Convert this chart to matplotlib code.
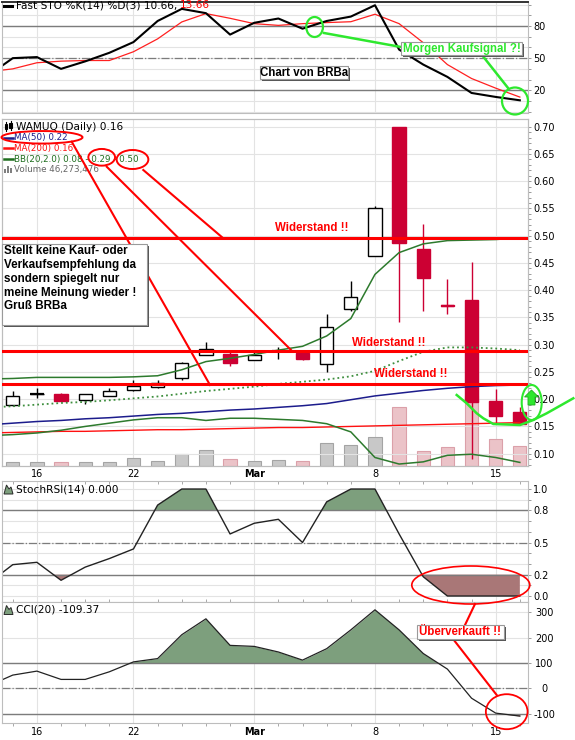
import numpy as np
import matplotlib.pyplot as plt
from matplotlib.patches import Ellipse, Rectangle, Polygon

W, H = 575, 740

# trading days: -1 = Feb 11 (only the start of the lines at the left edge), 0 = Feb 12 ... 21 = Mar 16
x_line = np.arange(-1, 22)
x_day = np.arange(0, 22)
tick_pos = [1, 5, 10, 15, 20]
tick_lbl = ['16', '22', 'Mar', '8', '15']

# WAMUQ daily candles
open_ = [0.189, 0.2095, 0.209, 0.198, 0.205, 0.216, 0.223, 0.238, 0.282, 0.283, 0.271,
         0.2884, 0.284, 0.264, 0.365, 0.463, 0.700, 0.476, 0.372, 0.382, 0.197, 0.176]
close = [0.206, 0.2095, 0.197, 0.209, 0.215, 0.225, 0.229, 0.266, 0.2915, 0.266, 0.281,
         0.2884, 0.274, 0.332, 0.388, 0.550, 0.486, 0.422, 0.371, 0.1955, 0.170, 0.154]
high = [0.215, 0.220, 0.212, 0.210, 0.221, 0.235, 0.235, 0.269, 0.3055, 0.287, 0.287,
        0.295, 0.285, 0.356, 0.416, 0.5545, 0.700, 0.521, 0.420, 0.452, 0.218, 0.185]
low = [0.187, 0.202, 0.196, 0.192, 0.205, 0.215, 0.220, 0.236, 0.281, 0.260, 0.271,
       0.273, 0.271, 0.2505, 0.361, 0.462, 0.341, 0.361, 0.356, 0.090, 0.156, 0.154]
volume = [8.5, 8.5, 8.5, 8.5, 8.5, 17.8, 10.9, 27.1, 37.0, 16.2, 10.9,
          13.2, 10.9, 52.5, 47.9, 66.4, 135.8, 34.7, 43.3, 162.0, 62.5, 46.3]  # Mio.

# overlays (Feb 11 .. Mar 16)
ma50 = [0.153, 0.156, 0.159, 0.161, 0.164, 0.166, 0.169, 0.172, 0.174, 0.177, 0.180, 0.182,
        0.185, 0.188, 0.192, 0.199, 0.206, 0.211, 0.216, 0.220, 0.223, 0.225, 0.226]
ma200 = [0.138, 0.139, 0.140, 0.141, 0.141, 0.142, 0.143, 0.144, 0.144, 0.145, 0.146, 0.147,
         0.148, 0.148, 0.149, 0.150, 0.151, 0.152, 0.153, 0.154, 0.155, 0.156, 0.157]
bb_up = [0.237, 0.238, 0.240, 0.240, 0.240, 0.240, 0.241, 0.243, 0.254, 0.269, 0.275, 0.282,
         0.290, 0.297, 0.316, 0.348, 0.429, 0.469, 0.485, 0.491, 0.492, 0.493, 0.496]
bb_mid = [0.185, 0.187, 0.190, 0.193, 0.195, 0.198, 0.2015, 0.205, 0.210, 0.215, 0.219, 0.223,
          0.228, 0.232, 0.236, 0.242, 0.252, 0.270, 0.287, 0.295, 0.295, 0.293, 0.290]
bb_low = [0.133, 0.135, 0.138, 0.143, 0.150, 0.156, 0.162, 0.166, 0.166, 0.161, 0.165, 0.165,
          0.163, 0.161, 0.155, 0.140, 0.093, 0.081, 0.085, 0.097, 0.099, 0.093, 0.084]
resist = [0.4964, 0.289, 0.2273]

# indicators
sto_k = [34, 50, 51, 40, 47, 55, 65, 84.7, 96, 92, 72, 83, 87, 77.5, 84.7, 88.8,
         99.4, 58, 44, 32.5, 17.5, 13.8, 10.66]
sto_d = [37.3, 40, 45.7, 47.2, 47.8, 47.8, 56, 68, 83.8, 91.6, 87.2, 82.2, 80.6, 82.2,
         83.2, 84, 91, 82.2, 64.4, 44, 31, 22, 13.66]
srsi = np.array([0.12, 0.293, 0.315, 0.147, 0.27, 0.35, 0.44, 0.85, 1.0, 1.0, 0.58, 0.68,
                 0.717, 0.5, 0.88, 1.0, 1.0, 0.58, 0.18, 0.0, 0.0, 0.0, 0.0])
cci = np.array([10, 52, 67.7, 35, 35, 65, 104, 117, 211, 273.6, 169, 165, 143, 111, 156,
                230, 309, 230, 137, 75.6, -39, -97.7, -109.37])

RED = '#cc0033'
GRID = '#e3e3e3'
LINE = '#7c7c7c'
GREEN_FILL = '#7d9f7d'
RED_FILL = '#a97777'
LIME = '#2ee82e'
ANN = dict(family='Liberation Sans', fontweight='bold', fontsize=8.3)

fig = plt.figure(figsize=(W / 100, H / 100), dpi=100)


def panel(y0, y1):
    a = fig.add_axes([2 / W, 1 - y1 / H, 526.3 / W, (y1 - y0) / H])
    a.set_xlim(-0.445, 21.35)
    for s in a.spines.values():
        s.set_color('#bdbdbd')
        s.set_linewidth(0.8)
    a.set_xticks(tick_pos)
    a.set_xticks(x_day, minor=True)
    a.tick_params(axis='x', which='both', length=0, labelbottom=False)
    a.yaxis.tick_right()
    a.tick_params(axis='y', which='both', length=2, width=0.6, color='#8c8c8c',
                  pad=1.5, labelsize=7)
    a.grid(axis='x', which='major', color=GRID, lw=0.8)
    a.set_axisbelow(True)
    return a


# Fast STO
ax_sto = panel(1.7, 113)
ax_sto.set_ylim(-1.2, 102.7)
ax_sto.set_yticks([20, 50, 80])
ax_sto.set_yticks(np.arange(0, 101, 10), minor=True)
ax_sto.grid(axis='y', which='both', color=GRID, lw=0.8)
ax_sto.axhline(80, color=LINE, lw=1)
ax_sto.axhline(20, color=LINE, lw=1)
ax_sto.axhline(50, color=LINE, lw=0.9, ls='-.')
ax_sto.plot(x_line, sto_d, color='#ff2020', lw=0.9)
ax_sto.plot(x_line, sto_k, color='black', lw=1.5)
ax_sto.spines['top'].set_color('#333333')
ax_sto.spines['top'].set_linewidth(1.4)

# volume behind the price panel
ax_vol = panel(119.3, 466)
ax_vol.set_ylim(0, 802)
ax_vol.set_yticks([])
up = np.array(close) >= np.array(open_)
ax_vol.bar(x_day, volume, width=0.55, color=np.where(up, '#c8c8c8', '#ebc3c8'),
           edgecolor=np.where(up, '#a4a4a4', '#dba0a9'), lw=0.8)

# price panel
ax = panel(119.3, 466)
ax.set_facecolor('none')
ax.grid(False, axis='x')
ax.set_ylim(0.0774, 0.7136)
yt = np.arange(0.10, 0.71, 0.05)
ax.set_yticks(yt)
ax.set_yticklabels(['%.2f' % v for v in yt])
ax.set_yticks(np.arange(0.08, 0.71, 0.01), minor=True)
ax.grid(axis='y', which='major', color=GRID, lw=0.8)

cols = np.where(up, 'black', RED)
ax.vlines(x_day, low, high, colors=cols, lw=1, zorder=3)
body_lo = np.minimum(open_, close)
body_h = np.abs(np.array(close) - np.array(open_))
ax.bar(x_day, body_h, bottom=body_lo, width=0.55, color=np.where(up, 'white', RED),
       edgecolor=cols, lw=1, zorder=4)
doji = body_h < 0.002
ax.hlines(np.array(close)[doji], x_day[doji] - 0.275, x_day[doji] + 0.275,
          colors=cols[doji], lw=1.6, zorder=4)

ax.plot(x_line, ma200, color='#ff1010', lw=1.0, zorder=5)
ax.plot(x_line, ma50, color='#1c1c8c', lw=1.1, zorder=5)
ax.plot(x_line, bb_up, color='#2d7a2d', lw=1.1, zorder=5)
ax.plot(x_line, bb_low, color='#2d7a2d', lw=1.1, zorder=5)
ax.plot(x_line, bb_mid, color='#3f8f3f', lw=1.3, ls=':', zorder=5)
for lvl in resist:
    ax.axhline(lvl, color='#ff0000', lw=2.2, zorder=6)
for xi, yi in [(12.4, 0.5135), (15.56, 0.3037), (16.47, 0.2457)]:
    ax.text(xi, yi, 'Widerstand !!', color='#ff0000', ha='center', va='center', zorder=7, **ANN)
ax.tick_params(axis='x', which='major', labelbottom=True, labelsize=7, pad=2.5)
ax.set_xticklabels(tick_lbl)
ax.get_xticklabels()[2].set_fontweight('bold')

# StochRSI
ax_rsi = panel(481, 602)
ax_rsi.set_ylim(-0.056, 1.075)
ax_rsi.set_yticks([0, 0.2, 0.5, 0.8, 1.0])
ax_rsi.set_yticklabels(['0.0', '0.2', '0.5', '0.8', '1.0'])
ax_rsi.set_yticks(np.arange(0, 1.01, 0.1), minor=True)
ax_rsi.grid(axis='y', which='both', color=GRID, lw=0.8)
ax_rsi.tick_params(axis='x', which='minor', top=True, direction='in', length=2.5,
                   color='#9a9a9a')
ax_rsi.fill_between(x_line, srsi, 0.8, where=srsi >= 0.8, interpolate=True,
                    color=GREEN_FILL, lw=0)
ax_rsi.fill_between(x_line, srsi, 0.2, where=srsi <= 0.2, interpolate=True,
                    color=RED_FILL, lw=0)
ax_rsi.axhline(0.8, color=LINE, lw=1)
ax_rsi.axhline(0.2, color=LINE, lw=1)
ax_rsi.axhline(0.5, color=LINE, lw=0.9, ls='-.')
ax_rsi.plot(x_line, srsi, color='#222222', lw=1.0)

# CCI
ax_cci = panel(602, 723.3)
ax_cci.set_ylim(-137.8, 339.8)
ax_cci.set_yticks([-100, 0, 100, 200, 300])
ax_cci.set_yticklabels(['-100', '0', '100', '200', '300'])
ax_cci.grid(axis='y', which='major', color=GRID, lw=0.8)
ax_cci.tick_params(axis='y', pad=9.5)
for lbl in ax_cci.get_yticklabels():
    lbl.set_ha('center')
ax_cci.fill_between(x_line, cci, 100, where=cci >= 100, interpolate=True,
                    color=GREEN_FILL, lw=0)
ax_cci.fill_between(x_line, cci, -100, where=cci <= -100, interpolate=True,
                    color=RED_FILL, lw=0)
ax_cci.axhline(100, color=LINE, lw=1)
ax_cci.axhline(-100, color=LINE, lw=1)
ax_cci.axhline(0, color=LINE, lw=0.9, ls='-.')
ax_cci.plot(x_line, cci, color='#222222', lw=0.9)
ax_cci.tick_params(axis='x', which='major', labelbottom=True, labelsize=7, pad=2.5)
ax_cci.tick_params(axis='x', which='minor', bottom=True, direction='out', length=2.5,
                   color='#9a9a9a')
ax_cci.set_xticklabels(tick_lbl)
ax_cci.get_xticklabels()[2].set_fontweight('bold')

# overlay in pixel coordinates: legends and the hand drawn notes
ov = fig.add_axes([0, 0, 1, 1], facecolor='none')
ov.set_xlim(0, W)
ov.set_ylim(H, 0)
ov.axis('off')

# legends
ov.plot([3.5, 12], [5.5, 5.5], color='black', lw=2.2)
t = ov.text(15.5, 5.5, 'Fast STO %K(14) %D(3) 10.66, ', fontsize=7.6, va='center')
ov.annotate('13.66', xy=(1, 0.5), xycoords=t, va='center', fontsize=7.6, color='#ff0000')

ov.add_patch(Rectangle((4.5, 123.5), 2.6, 5, fc='white', ec='black', lw=0.8))
ov.add_patch(Rectangle((9.3, 123), 2.6, 4.5, fc='black', ec='black', lw=0.8))
ov.plot([5.8, 5.8], [121.5, 130.5], color='black', lw=0.8)
ov.plot([10.6, 10.6], [121, 129.5], color='black', lw=0.8)
ov.text(15.5, 126.5, 'WAMUQ (Daily) 0.16', fontsize=7.6, va='center')
for yy, txt, c in [(137.7, 'MA(50) 0.22', '#1c1c8c'),
                   (148.3, 'MA(200) 0.16', '#ff1010'),
                   (159.3, 'BB(20,2.0) 0.08 - 0.29 - 0.50', '#1e6e1e')]:
    ov.plot([3.5, 12.5], [yy, yy], color=c, lw=1.8)
    ov.text(14.3, yy, txt, fontsize=6.3, color=c, va='center')
for i, hb in enumerate([4, 7, 5]):
    ov.add_patch(Rectangle((4.2 + i * 3, 173 - hb), 2.2, hb, fc='#808080', ec='none'))
ov.text(14.3, 169.3, 'Volume 46,273,476', fontsize=6.3, color='#666666', va='center')

for yy, txt in [(489, 'StochRSI(14) 0.000'), (609.5, 'CCI(20) -109.37')]:
    ov.add_patch(Polygon([[4, yy + 5], [6.5, yy - 4], [9, yy], [11, yy - 2], [13, yy + 5]],
                         closed=True, fc=GREEN_FILL, ec='#2a2a2a', lw=0.7))
    ov.text(15.5, yy, txt, fontsize=7.6, va='center')


def box(x0, y0, x1, y1):
    ov.add_patch(Rectangle((x0 + 2, y0 + 2), x1 - x0, y1 - y0, fc='#555555', ec='none', zorder=20))
    ov.add_patch(Rectangle((x0, y0), x1 - x0, y1 - y0, fc='white', ec='#9a9a9a', lw=0.8, zorder=21))


def ring(cx, cy, w, h, c, lw):
    ov.add_patch(Ellipse((cx, cy), w, h, fill=False, ec=c, lw=lw, zorder=18))


# top panel notes
ring(314.6, 27, 16.7, 20, LIME, 1.6)
ov.plot([324, 401], [33, 47], color=LIME, lw=1.8, zorder=18)
ov.plot([483.3, 508.3], [56.7, 88.3], color=LIME, lw=1.8, zorder=18)
ring(515, 101, 26, 27, LIME, 1.6)
box(401, 41.7, 522, 55)
ov.text(461.5, 48.6, 'Morgen Kaufsignal ?!', color=LIME, ha='center', va='center', zorder=22, **ANN)
box(260, 65.8, 348, 79.3)
ov.text(304, 72.6, 'Chart von BRBa', color='black', ha='center', va='center', zorder=22, **ANN)

# price panel notes
ring(42, 137.3, 81, 12.5, '#ff0000', 1.4)
ring(101.7, 157.3, 26.7, 16.7, '#ff0000', 1.4)
ring(132.5, 159.5, 31.7, 19, '#ff0000', 1.4)
ov.plot([71.7, 210], [141.7, 385], color='#ff0000', lw=1.5, zorder=15)
ov.plot([106.7, 291], [166.7, 350], color='#ff0000', lw=1.5, zorder=15)
ov.plot([143.3, 223.3], [170, 238.3], color='#ff0000', lw=1.5, zorder=15)
box(1.7, 244.3, 146.7, 325)
ov.text(3.5, 245.5, 'Stellt keine Kauf- oder\nVerkaufsempfehlung da\nsondern spiegelt nur\n'
        'meine Meinung wieder !\nGruß BRBa', color='black', va='top', ha='left',
        linespacing=1.19, zorder=22, family='Liberation Sans', fontweight='bold', fontsize=8.4)
ov.plot([456.7, 466.7, 476.7, 483.3, 493.3, 520, 533.3, 546.7, 573.3],
        [395, 403.3, 413.3, 418.3, 424, 425, 420, 413.3, 398.3], color=LIME, lw=1.8, zorder=18)
ring(531.7, 402.5, 20, 35, LIME, 1.5)
ov.add_patch(Polygon([[524.5, 397], [531.5, 390], [538.5, 397], [535, 397], [535, 405],
                      [528, 405], [528, 397]], closed=True, fc=LIME, ec='#20b020', lw=0.6,
                     zorder=19))

# lower panels notes
ring(470.8, 585, 118, 38, '#ff0000', 1.2)
ov.plot([475, 465], [604, 625], color='#ff0000', lw=1.5, zorder=15)
ov.plot([453.3, 496.7], [639.3, 695], color='#ff0000', lw=1.5, zorder=15)
box(416.7, 625, 504, 639)
ov.text(460.3, 632.2, 'Überverkauft !!', color='#ff0000', ha='center', va='center', zorder=22, **ANN)
ring(506.7, 711.7, 41.7, 35, '#ff0000', 1.3)

fig.savefig('out.png', dpi=100)
